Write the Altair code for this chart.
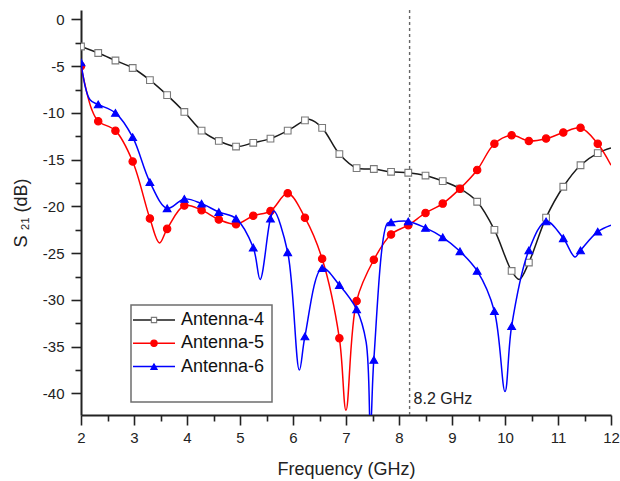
import altair as alt
import pandas as pd

# ---------------- data ----------------
marker_ghz = [2.0, 2.325, 2.65, 2.975, 3.3, 3.625, 3.95, 4.275, 4.6, 4.925,
              5.25, 5.575, 5.9, 6.225, 6.55, 6.875, 7.2, 7.525, 7.85, 8.175,
              8.5, 8.825, 9.15, 9.475, 9.8, 10.125, 10.45, 10.775, 11.1, 11.425, 11.75]

a4_marker_db = [-2.9, -3.6, -4.4, -5.2, -6.5, -8.1, -9.9, -11.9, -13.0, -13.6,
                -13.2, -12.75, -11.9, -10.8, -11.6, -14.4, -15.9, -16.0, -16.3, -16.4,
                -16.7, -17.3, -18.1, -19.5, -22.5, -26.9, -26.0, -21.2, -17.9, -15.6, -14.3]
a5_marker_db = [-5.0, -10.9, -11.9, -15.2, -21.3, -22.4, -19.9, -20.4, -21.4, -21.9,
                -21.0, -20.5, -18.6, -21.2, -25.6, -34.1, -30.1, -25.7, -23.0, -22.0,
                -20.7, -19.7, -18.1, -16.1, -13.3, -12.4, -13.0, -12.75, -12.1, -11.6, -13.3]
a6_marker_db = [-4.6, -9.1, -10.0, -12.6, -17.4, -20.2, -19.2, -19.7, -20.6, -21.3,
                -24.4, -21.3, -24.9, -33.9, -26.6, -28.4, -31.0, -36.4, -21.7, -21.6,
                -22.3, -23.3, -24.8, -26.9, -31.2, -32.8, -24.7, -21.6, -23.4, -24.7, -22.7]

# additional curve points read between markers (dips, peaks, ends)
a4_extra_ghz = [6.32, 10.27, 12.0]
a4_extra_db = [-10.7, -27.8, -13.75]
a5_extra_ghz = [2.2, 3.48, 7.0, 12.0]
a5_extra_db = [-9.6, -23.9, -41.8, -15.6]
a6_extra_ghz = [2.17, 5.38, 5.64, 6.12, 7.38, 7.46, 7.78, 10.0, 11.32, 12.0]
a6_extra_db = [-8.6, -27.8, -20.5, -37.5, -34.5, -44.0, -21.8, -39.8, -25.4, -22.0]

series_names = ["Antenna-4", "Antenna-5", "Antenna-6"]
marker_db = [a4_marker_db, a5_marker_db, a6_marker_db]
extra_ghz = [a4_extra_ghz, a5_extra_ghz, a6_extra_ghz]
extra_db = [a4_extra_db, a5_extra_db, a6_extra_db]

ref_ghz = [8.2]
ref_label = ["8.2 GHz"]
ref_label_db = [-40.6]

x_major = [2, 3, 4, 5, 6, 7, 8, 9, 10, 11, 12]
x_minor = [2.5, 3.5, 4.5, 5.5, 6.5, 7.5, 8.5, 9.5, 10.5, 11.5]
y_major = [0, -5, -10, -15, -20, -25, -30, -35, -40]
y_minor = [-2.5, -7.5, -12.5, -17.5, -22.5, -27.5, -32.5, -37.5]

# ---------------- styles ----------------
FONT = "Liberation Sans"
AX = "#222222"
styles = {
    "Antenna-4": dict(line="#1a1a1a", shape="square", fill="white", stroke="#7a7a7a", size=45, lsize=28),
    "Antenna-5": dict(line="#ff0000", shape="circle", fill="#ff0000", stroke="#ff0000", size=55, lsize=40),
    "Antenna-6": dict(line="#0000ff", shape="triangle-up", fill="#0000ff", stroke="#0000ff", size=60, lsize=40),
}

xs = alt.Scale(domain=[2, 12], nice=False, zero=False)
ys = alt.Scale(domain=[-42.3, 1.0], nice=False, zero=False)

major_x_axis = alt.Axis(values=x_major, orient="bottom", tickSize=10, tickWidth=1.6, tickColor=AX,
                        domainColor=AX, domainWidth=2, labelFont=FONT, labelFontSize=15,
                        labelColor=AX, labelPadding=5, grid=False, title="Frequency (GHz)",
                        titleFont=FONT, titleFontSize=18, titleFontWeight="normal",
                        titleColor=AX, titlePadding=15, labelFlush=False,
                        labelExpr="toString(datum.value)")
major_y_axis = alt.Axis(values=y_major, orient="left", tickSize=10, tickWidth=1.6, tickColor=AX,
                        domainColor=AX, domainWidth=2, labelFont=FONT, labelFontSize=15,
                        labelColor=AX, labelPadding=7, grid=False, title="S ₂₁ (dB)",
                        titleFont=FONT, titleFontSize=18, titleFontWeight="normal",
                        titleColor=AX, titlePadding=12, labelFlush=False,
                        labelExpr="toString(datum.value)")
minor_x_axis = alt.Axis(values=x_minor, orient="bottom", tickSize=6, tickWidth=1.6, tickColor=AX,
                        domain=False, labels=False, grid=False, title=None)
minor_y_axis = alt.Axis(values=y_minor, orient="left", tickSize=6, tickWidth=1.6, tickColor=AX,
                        domain=False, labels=False, grid=False, title=None)

layers = []

# reference line at 8.2 GHz
ref_df = pd.DataFrame({"ghz": ref_ghz, "label": ref_label, "db": ref_label_db})
layers.append(
    alt.Chart(ref_df).mark_rule(color="#666666", strokeDash=[3, 3], strokeWidth=1.4)
    .encode(x=alt.X("ghz:Q", scale=xs, axis=None))
)

for i, name in enumerate(series_names):
    st = styles[name]
    line_df = pd.DataFrame({
        "ghz": marker_ghz + extra_ghz[i],
        "db": marker_db[i] + extra_db[i],
    }).sort_values("ghz")
    mk_df = pd.DataFrame({"ghz": marker_ghz, "db": marker_db[i]})
    xa = major_x_axis if i == 0 else None
    ya = major_y_axis if i == 0 else None
    layers.append(
        alt.Chart(line_df).mark_line(color=st["line"], strokeWidth=1.5,
                                     interpolate="catmull-rom", clip=True)
        .encode(x=alt.X("ghz:Q", scale=xs, axis=xa), y=alt.Y("db:Q", scale=ys, axis=ya),
                order="ghz:Q")
    )
    xm = minor_x_axis if i == 0 else None
    ym = minor_y_axis if i == 0 else None
    layers.append(
        alt.Chart(mk_df).mark_point(shape=st["shape"], filled=True, fill=st["fill"],
                                    stroke=st["stroke"], strokeWidth=1.1, size=st["size"],
                                    opacity=1, clip=True)
        .encode(x=alt.X("ghz:Q", scale=xs, axis=xm), y=alt.Y("db:Q", scale=ys, axis=ym))
    )

# annotation text
layers.append(
    alt.Chart(ref_df).mark_text(align="left", baseline="middle", dx=4, font=FONT,
                                fontSize=16, color=AX)
    .encode(x=alt.X("ghz:Q", scale=xs, axis=None), y=alt.Y("db:Q", scale=ys, axis=None),
            text="label:N")
)

# legend (drawn manually so each entry shows line + marker)
LEG_LEFT, LEG_RIGHT, LEG_TOP, LEG_BOTTOM = 50, 191, 295, 392
ROW0, ROW_GAP = 310, 23.3
box_df = pd.DataFrame({"k": [0]})
layers.append(
    alt.Chart(box_df).mark_rect(fill="white", stroke="#6e6e6e", strokeWidth=1.5)
    .encode(x=alt.value(LEG_LEFT), x2=alt.value(LEG_RIGHT), y=alt.value(LEG_TOP), y2=alt.value(LEG_BOTTOM))
)
for i, name in enumerate(series_names):
    st = styles[name]
    ry = ROW0 + ROW_GAP * i
    row_df = pd.DataFrame({"name": [name]})
    layers.append(
        alt.Chart(row_df).mark_rule(color=st["line"], strokeWidth=1.5)
        .encode(x=alt.value(LEG_LEFT + 2), x2=alt.value(LEG_LEFT + 44), y=alt.value(ry))
    )
    layers.append(
        alt.Chart(row_df).mark_point(shape=st["shape"], filled=True, fill=st["fill"],
                                     stroke=st["stroke"], strokeWidth=1.1, size=st["lsize"], opacity=1)
        .encode(x=alt.value(LEG_LEFT + 23), y=alt.value(ry))
    )
    layers.append(
        alt.Chart(row_df).mark_text(align="left", baseline="middle", font=FONT, fontSize=18, color="#111111")
        .encode(x=alt.value(LEG_LEFT + 50), y=alt.value(ry), text="name:N")
    )

chart = (
    alt.layer(*layers)
    .resolve_axis(x="independent", y="independent")
    .properties(width=530, height=405,
                padding={"left": 81, "top": 10, "right": 9, "bottom": 66},
                autosize=alt.AutoSizeParams(type="none"),
                background="white")
    .configure_view(stroke=None)
)

chart.save("out.html", embed_options={"renderer": "svg", "actions": False})
